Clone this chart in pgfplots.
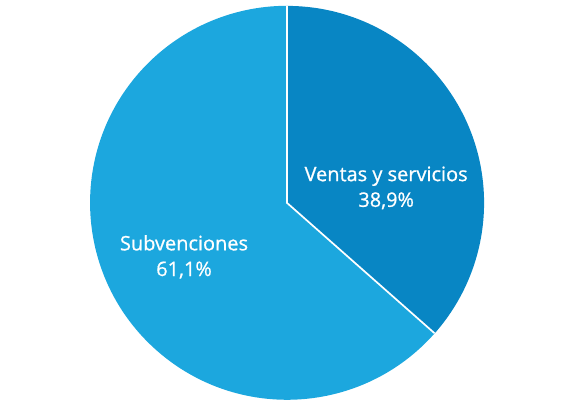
\documentclass[border=0pt]{standalone}
\usepackage{pgfplots}
\pgfplotsset{compat=1.18}
\usepackage{fontspec}
\setmainfont{Open Sans}
\newfontfamily\labfont{Open Sans}[FakeBold=0.8]
\definecolor{ventas}{RGB}{8,134,196}
\definecolor{subv}{RGB}{28,167,222}
\begin{document}
\begin{tikzpicture}
  \begin{axis}[width=14cm, height=10.056cm, scale only axis, hide axis,
    xmin=-1.457, xmax=1.426, ymin=-1.041, ymax=1.030, clip=false]
    \coordinate (bl) at (rel axis cs:0,0);
    \coordinate (tr) at (rel axis cs:1,1);
    % Ventas y servicios 38,9%  |  Subvenciones 61,1%
    \fill[ventas] (axis cs:0,0) -- (axis cs:0,1) arc[start angle=90, end angle=-41.5, radius=1] -- cycle;
    \fill[subv] (axis cs:0,0) -- (axis cs:0.749,-0.662) arc[start angle=-41.5, end angle=-270, radius=1] -- cycle;
    \draw[white, line width=1.2pt] (axis cs:0,1) -- (axis cs:0,0) -- (axis cs:0.749,-0.662);
    \node[white, align=center, font=\labfont\fontsize{14}{18}\selectfont] at (axis cs:0.503,0.076) {Ventas y servicios\\38,9\%};
    \node[white, align=center, font=\labfont\fontsize{14}{18}\selectfont] at (axis cs:-0.523,-0.274) {Subvenciones\\61,1\%};
  \end{axis}
  \pgfresetboundingbox
  \path (bl) rectangle (tr);
\end{tikzpicture}
\end{document}
